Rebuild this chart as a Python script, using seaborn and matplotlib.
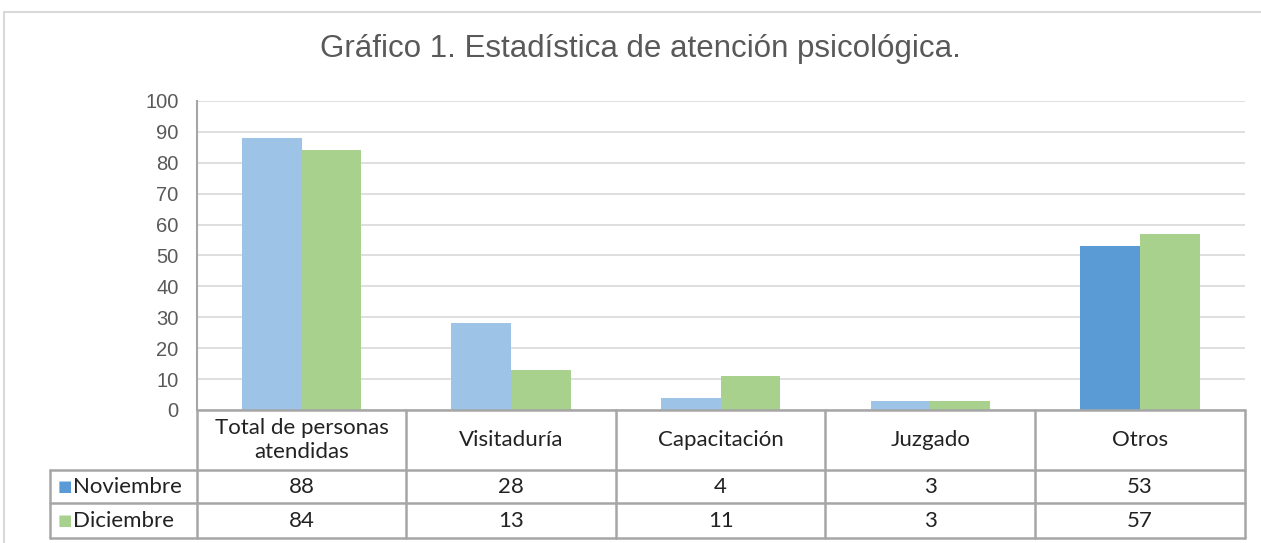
import matplotlib
matplotlib.use("Agg")
import matplotlib.pyplot as plt
import matplotlib.transforms as mtransforms
from matplotlib.patches import Rectangle
import pandas as pd
import seaborn as sns

# data
categorias = ["Total de personas\natendidas", "Visitaduría", "Capacitación", "Juzgado", "Otros"]
meses = ["Noviembre", "Diciembre"]
noviembre = [88, 28, 4, 3, 53]
diciembre = [84, 13, 11, 3, 57]
yticks = [0, 10, 20, 30, 40, 50, 60, 70, 80, 90, 100]

AZUL_CLARO = "#9DC3E6"
AZUL = "#5B9BD5"
VERDE = "#A9D18E"
GRIS_TXT = "#595959"
GRIS_LINEA = "#A6A6A6"

sns.set_theme(style="white")
plt.rcParams["font.family"] = ["Liberation Sans", "DejaVu Sans"]

df = pd.DataFrame({
    "categoria": categorias * 2,
    "mes": [meses[0]] * 5 + [meses[1]] * 5,
    "valor": noviembre + diciembre,
})

fig = plt.figure(figsize=(12.61, 5.43), dpi=100)
ax = fig.add_axes([0.156, 0.245, 0.831, 0.569])

sns.barplot(data=df, x="categoria", y="valor", hue="mes",
            palette=[AZUL_CLARO, VERDE], width=0.57, ax=ax, legend=False,
            saturation=1, linewidth=0)
# last November bar is drawn darker in the original
ax.containers[0][4].set_facecolor(AZUL)

ax.set_ylim(0, 100)
ax.set_xlim(-0.5, len(categorias) - 0.5)
ax.set_yticks(yticks)
ax.set_yticklabels([str(t) for t in yticks], color=GRIS_TXT, fontsize=14.5)
ax.set_xticks([])
ax.set_xlabel("")
ax.set_ylabel("")
ax.tick_params(axis="y", length=0, pad=13)
ax.yaxis.grid(True, color="#D9D9D9", lw=1.2)
ax.set_axisbelow(True)
for s in ["top", "right", "bottom"]:
    ax.spines[s].set_visible(False)
ax.spines["left"].set_color(GRIS_LINEA)
ax.spines["left"].set_linewidth(1.5)

# data table under the plot
tr = mtransforms.blended_transform_factory(ax.transData, ax.transAxes)
y_head, y_r1, y_r2 = -0.195, -0.302, -0.415
x_left = -0.5 - 0.70
x_right = len(categorias) - 0.5
kw = dict(transform=tr, color=GRIS_LINEA, lw=1.8, clip_on=False)
ax.plot([-0.5, x_right], [0, 0], **kw)
for y in [y_head, y_r1, y_r2]:
    ax.plot([x_left, x_right], [y, y], **kw)
ax.plot([x_left, x_left], [y_head, y_r2], **kw)
for i in range(len(categorias) + 1):
    ax.plot([i - 0.5, i - 0.5], [0, y_r2], **kw)

tfont = dict(family=["Lato", "DejaVu Sans"], fontsize=16, color="#222222",
             transform=tr, clip_on=False, ha="center", va="center")
for i, cat in enumerate(categorias):
    ax.text(i, y_head / 2, cat, linespacing=1.2, **tfont)
    ax.text(i, (y_head + y_r1) / 2, str(noviembre[i]), **tfont)
    ax.text(i, (y_r1 + y_r2) / 2, str(diciembre[i]), **tfont)

for (mes, color, y0, y1) in [(meses[0], AZUL, y_head, y_r1), (meses[1], VERDE, y_r1, y_r2)]:
    ym = (y0 + y1) / 2
    ax.text(x_left + 0.035, ym, "\u25A0", family="DejaVu Sans", fontsize=11,
            color=color, transform=tr, ha="left", va="center", clip_on=False)
    ax.text(x_left + 0.11, ym, mes, family=["Lato", "DejaVu Sans"], fontsize=16,
            color="#222222", transform=tr, ha="left", va="center", clip_on=False)

fig.text(0.508, 0.91, "Gráfico 1. Estadística de atención psicológica.",
         ha="center", va="center", fontsize=22.5, color=GRIS_TXT)

# outer chart border
fig.patches.append(Rectangle((0.003, -0.05), 1.1, 1.028, transform=fig.transFigure,
                             fill=False, edgecolor="#D9D9D9", lw=1.5))

fig.savefig("out.png", dpi=100)
